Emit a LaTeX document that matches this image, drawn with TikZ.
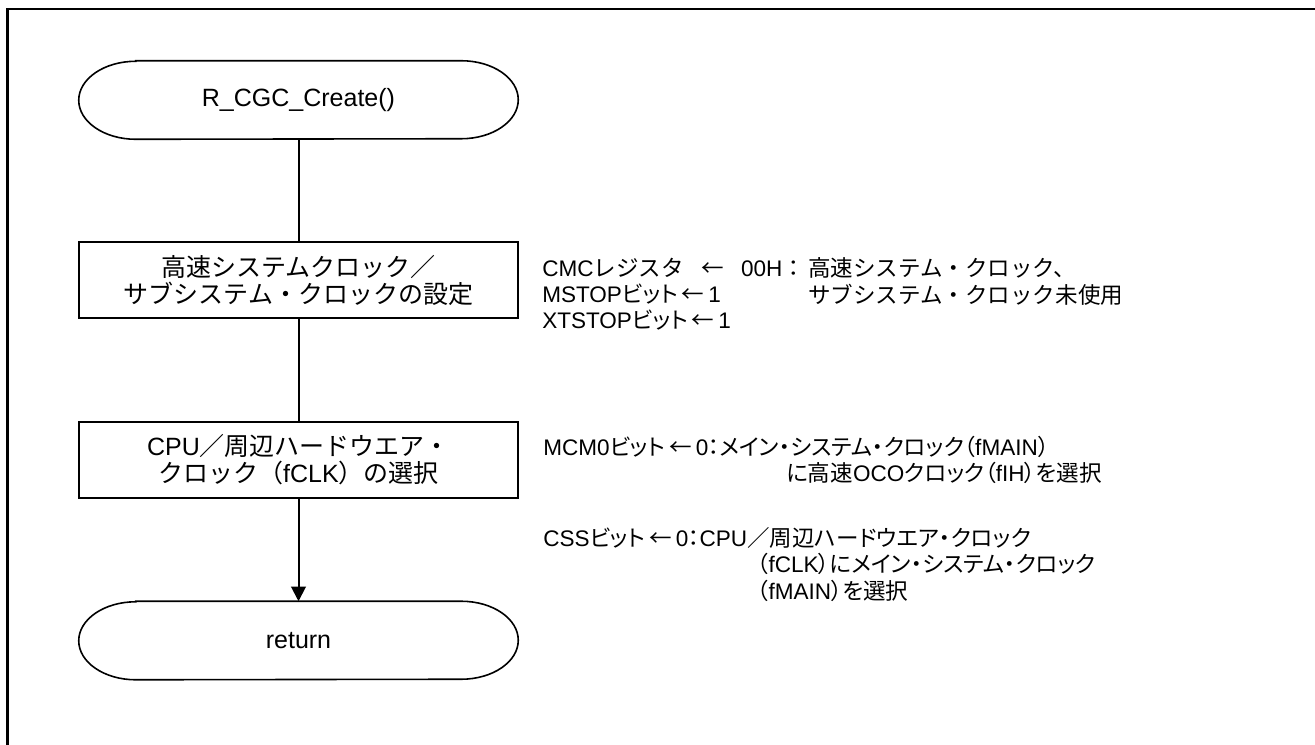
\documentclass[tikz,border=0pt]{standalone}
\usepackage{fontspec}
\setmainfont{Liberation Sans}
\newfontfamily\jp{Noto Sans CJK JP}
\newfontfamily\jpp[RawFeature=+palt]{Noto Sans CJK JP}
\usetikzlibrary{arrows.meta}
\newcommand\termoutline[1]{%
  \draw[termline] ([xshift=42.75pt]#1.north west) -- ([xshift=-42.75pt]#1.north east)
    arc[start angle=90,end angle=-90,x radius=42.75pt,y radius=29.25pt]
    -- ([xshift=42.75pt]#1.south west)
    arc[start angle=270,end angle=90,x radius=42.75pt,y radius=29.25pt] -- cycle;}
\newcommand\larr{\hspace{3pt}{\jp ←}\hspace{3pt}}
\begin{document}
\begin{tikzpicture}[x=0.75pt,y=-0.75pt,
  every node/.style={font=\fontsize{18.75}{20.25}\selectfont, inner sep=0pt},
  proc/.style={draw, line width=1.5pt, minimum width=329.25pt, minimum height=57pt, align=center},
  term/.style={minimum width=329.25pt, minimum height=58.5pt, align=center},
  termline/.style={line width=1.2pt},
  flow/.style={line width=1.5pt},
  note/.style={anchor=base west, align=left, font=\fontsize{16.9}{19.5}\selectfont}]
\clip (0,0) rectangle (1315,744);
\draw[line width=2pt] (7.5,800) -- (7.5,9) -- (1400,9);

\node[term] (start) at (298.5,100) {R\_CGC\_Create()};
\node[proc] (set) at (298.5,280) {{\jp 高速システムクロック／}\\{\jp サブシステム・クロックの設定}};
\node[proc] (sel) at (298.5,460) {CPU{\jp ／周辺ハードウエア・}\\{\jp クロック（}fCLK{\jp ）の選択}};
\node[term] (ret) at (298.5,640.5) {return};
\termoutline{start}
\termoutline{ret}

\draw[flow] (start.south) -- (set.north);
\draw[flow] (set.south) -- (sel.north);
\draw[flow,-{Triangle[width=11pt,length=11pt]}] (sel.south) -- (ret.north);

\node[note] (cmc) at (542,276) {\begin{tabular}[t]{@{}l@{}}\makebox[197pt][s]{CMC{\jp レジスタ}\hspace{4pt plus 1fil}{\jp ←}\hspace{4pt plus 1fil}00H{\jp ：}}\\MSTOP{\jpp ビット}\larr 1\\XTSTOP{\jpp ビット}\larr 1\end{tabular}};
\node[note] (cmcr) at (808,276) {\begin{tabular}[t]{@{}l@{}}{\jp 高速システム・クロック、}\\{\jp サブシステム・クロック未使用}\end{tabular}};
\node[note] (mcm) at (543,455) {MCM0{\jpp ビット}\larr 0{\jpp ：メイン・システム・クロック（}fMAIN{\jpp ）}};
\node[note] (mcmb) at (786,481) {{\jpp に高速}OCO{\jpp クロック（}fIH{\jpp ）を選択}};
\node[note] (css) at (543,546) {CSS{\jpp ビット}\larr 0{\jpp ：}CPU{\jpp ／周辺ハードウエア・クロック}};
\node[note] (cssb) at (757,572) {\begin{tabular}[t]{@{}l@{}}{\jpp （}fCLK{\jpp ）にメイン・システム・クロック}\\{\jpp （}fMAIN{\jpp ）を選択}\end{tabular}};
\end{tikzpicture}
\end{document}
